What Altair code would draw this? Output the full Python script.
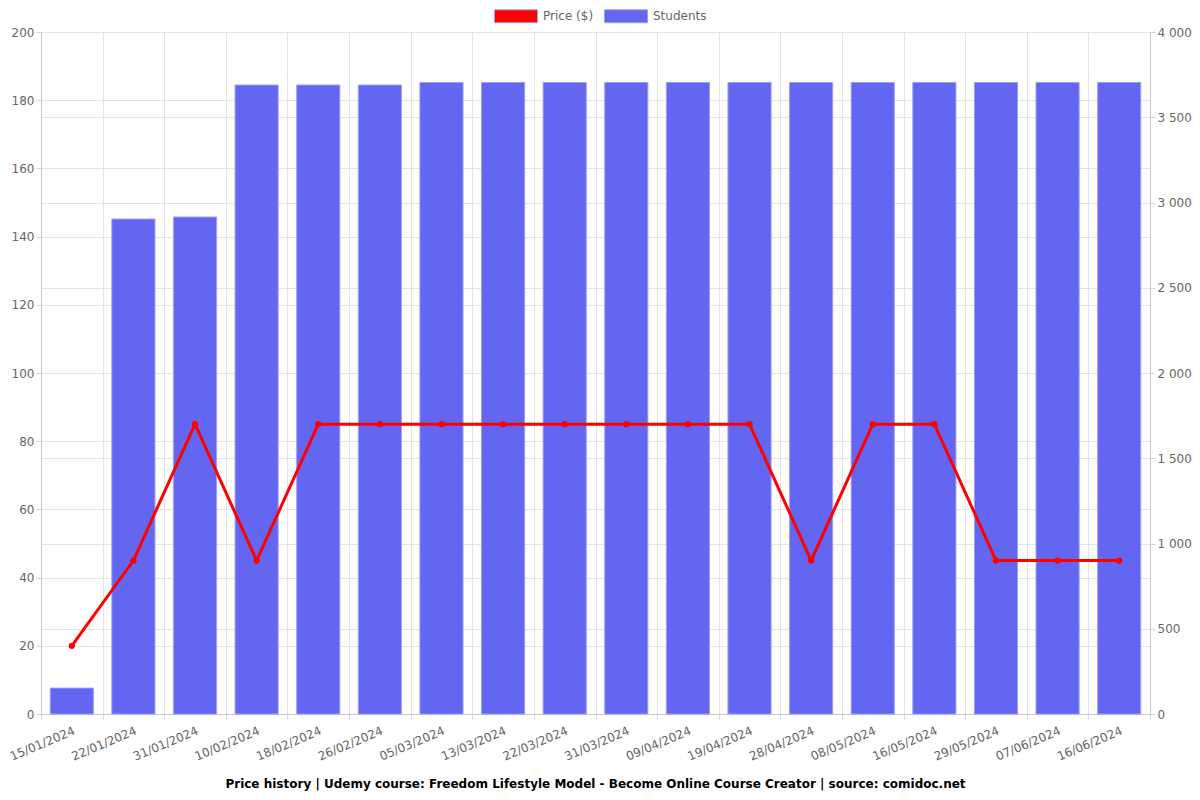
import altair as alt
import pandas as pd

dates = ["15/01/2024", "22/01/2024", "31/01/2024", "10/02/2024", "18/02/2024",
         "26/02/2024", "05/03/2024", "13/03/2024", "22/03/2024", "31/03/2024",
         "09/04/2024", "19/04/2024", "28/04/2024", "08/05/2024", "16/05/2024",
         "29/05/2024", "07/06/2024", "16/06/2024"]
prices = [20, 45, 85, 45, 85, 85, 85, 85, 85, 85, 85, 85, 45, 85, 85, 45, 45, 45]
students = [152, 2903, 2915, 3689, 3689, 3689, 3704, 3704, 3704, 3704,
            3704, 3704, 3704, 3704, 3704, 3704, 3704, 3704]
series_names = ["Price ($)", "Students"]
series_colors = ["#ff0000", "#6366f1"]
title_text = "Price history | Udemy course: Freedom Lifestyle Model - Become Online Course Creator | source: comidoc.net"

df = pd.DataFrame({"date": dates, "price": prices, "students": students,
                   "series": "Students"})

x_enc = alt.X("date:N", sort=dates, title=None,
              scale=alt.Scale(paddingInner=0, paddingOuter=0),
              axis=alt.Axis(tickBand="extent", labelAngle=-23, labelAlign="right",
                            labelBaseline="top", labelPadding=6, labelFontSize=12,
                            labelColor="#666666", labelOverlap=False,
                            grid=True, gridColor="#e4e4e4", tickColor="#d6d6d6",
                            domainColor="#c8c8c8", tickSize=5))

bars = alt.Chart(df).mark_bar(width={"band": 0.7}, stroke="#9c9ef6", strokeWidth=1).encode(
    x=x_enc,
    y=alt.Y("students:Q", title=None,
            scale=alt.Scale(domain=[0, 4000], nice=False, zero=True),
            axis=alt.Axis(orient="right", values=list(range(0, 4001, 500)),
                          labelExpr="replace(format(datum.value, ','), ',', ' ')",
                          labelFontSize=12, labelColor="#666666", labelPadding=2,
                          grid=True, gridColor="#e4e4e4", tickColor="#d6d6d6",
                          domainColor="#c8c8c8", tickSize=5)),
    color=alt.Color("series:N",
                    scale=alt.Scale(domain=series_names, range=series_colors),
                    legend=alt.Legend(orient="none", legendX=453, legendY=-38,
                                      direction="horizontal", title=None,
                                      symbolType="M-1,-0.3H1V0.3H-1Z",
                                      symbolSize=1849, symbolStrokeWidth=1,
                                      symbolOpacity=1,
                                      labelFontSize=12, labelColor="#666666",
                                      columnPadding=8, labelOffset=5)),
)

line = alt.Chart(df).mark_line(color="#ff0000", strokeWidth=3,
                               point=alt.OverlayMarkDef(color="#ff0000", size=40, filled=True, opacity=1)).encode(
    x=alt.X("date:N", sort=dates),
    y=alt.Y("price:Q", title=None,
            scale=alt.Scale(domain=[0, 200], nice=False, zero=True),
            axis=alt.Axis(orient="left", values=list(range(0, 201, 20)),
                          labelFontSize=12, labelColor="#666666", labelPadding=2,
                          grid=True, gridColor="#e4e4e4", tickColor="#d6d6d6",
                          domainColor="#c8c8c8", tickSize=5)),
)

chart = alt.layer(bars, line).resolve_scale(y="independent").properties(
    width=1109, height=682,
    padding={"left": 33, "top": 24, "right": 42, "bottom": 78},
    autosize=alt.AutoSizeParams(type="none"),
    title=alt.TitleParams(title_text, orient="bottom", anchor="middle",
                          fontSize=12, fontWeight="bold", color="#000000",
                          offset=17),
).configure(font="DejaVu Sans").configure_view(stroke="#e4e4e4")

chart.save("out.html", embed_options={"renderer": "svg", "actions": False})
